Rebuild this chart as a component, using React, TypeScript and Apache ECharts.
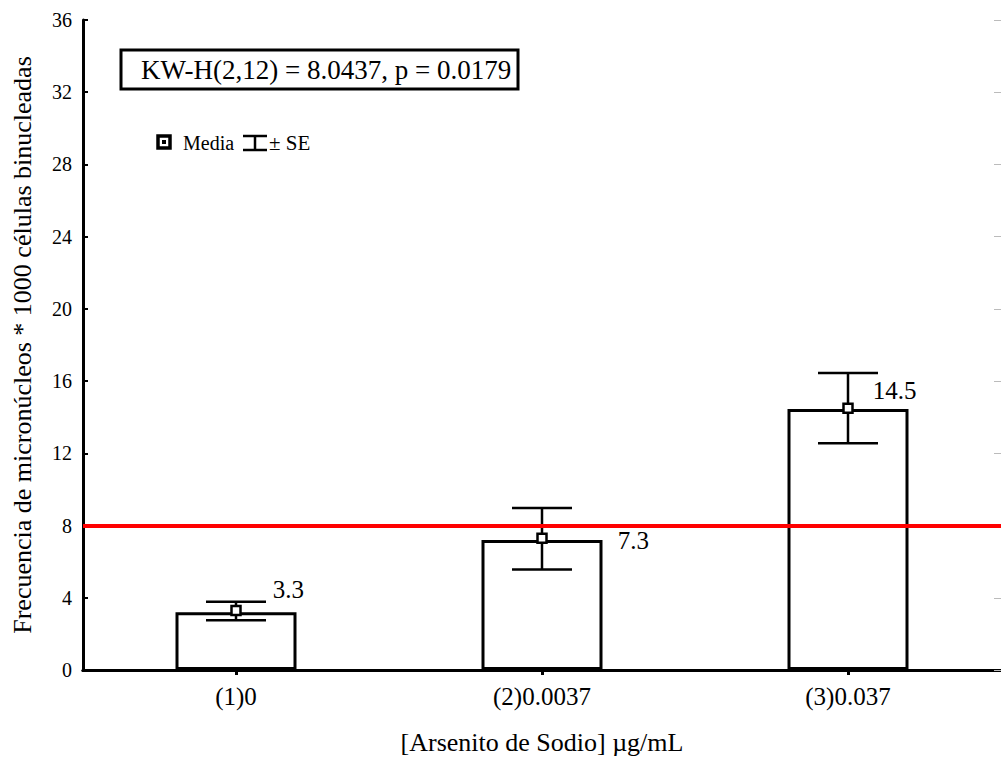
import React, { useEffect, useRef } from "react";
import * as echarts from "echarts";

const categories = ["(1)0", "(2)0.0037", "(3)0.037"];
const barValues = [3.2, 7.2, 14.45];
const meanValues = [3.3, 7.3, 14.5];
const seLow = [2.76, 5.56, 12.56];
const seHigh = [3.78, 8.97, 16.45];
const yTicks = { min: 0, max: 36, interval: 4 };
const refLine = 8;
const statText = "KW-H(2,12) = 8.0437, p = 0.0179";
const labelOffsets = [
  [31, -21],
  [70, 2],
  [19, -18],
];

const FONT = "Liberation Serif";

export default function App() {
  const ref = useRef<HTMLDivElement>(null);
  useEffect(() => {
    if (!ref.current) return;
    const chart = echarts.init(ref.current, null, { renderer: "svg" });
    const axisLine = { show: true, lineStyle: { color: "#000", width: 3 } };
    chart.setOption({
      animation: false,
      backgroundColor: "#fff",
      textStyle: { fontFamily: FONT },
      grid: { left: 83, top: 20, width: 922, height: 652 },
      xAxis: [
        {
          type: "category",
          data: categories,
          position: "bottom",
          axisLine,
          axisTick: { show: true, inside: true, length: 4, alignWithLabel: true, lineStyle: { color: "#000", width: 2 } },
          axisLabel: { color: "#000", fontSize: 25, fontFamily: FONT, margin: 14 },
          name: "[Arsenito de Sodio] µg/mL",
          nameLocation: "middle",
          nameGap: 59,
          nameTextStyle: { color: "#000", fontSize: 26, fontFamily: FONT },
        },
        {
          type: "category",
          data: categories,
          position: "top",
          axisLine,
          axisTick: { show: true, inside: true, length: 5, alignWithLabel: true, lineStyle: { color: "#000", width: 3 } },
          axisLabel: { show: false },
        },
      ],
      yAxis: [
        {
          type: "value",
          min: yTicks.min,
          max: yTicks.max,
          interval: yTicks.interval,
          position: "left",
          axisLine,
          splitLine: { show: false },
          axisTick: { show: true, inside: true, length: 5, lineStyle: { color: "#000", width: 2 } },
          axisLabel: { color: "#000", fontSize: 20, fontFamily: FONT, margin: 11 },
          name: "Frecuencia de micronúcleos * 1000 células binucleadas",
          nameLocation: "middle",
          nameGap: 48,
          nameTextStyle: { color: "#000", fontSize: 26, fontFamily: FONT },
        },
        {
          type: "value",
          min: yTicks.min,
          max: yTicks.max,
          interval: yTicks.interval,
          position: "right",
          axisLine: { show: false },
          splitLine: { show: false },
          axisTick: { show: true, inside: true, length: 7, lineStyle: { color: "#bbb", width: 1 } },
          axisLabel: { show: false },
        },
      ],
      series: [
        {
          type: "bar",
          data: barValues,
          barWidth: 121,
          itemStyle: { color: "#fff", borderColor: "#000", borderWidth: 3 },
          markLine: {
            silent: true,
            symbol: ["none", "none"],
            label: { show: false },
            lineStyle: { color: "#ff0000", width: 4, type: "solid" },
            data: [{ yAxis: refLine }],
            z: 10,
          },
          z: 2,
        },
        {
          type: "custom",
          data: categories.map((_, i) => [i, seLow[i], seHigh[i]]),
          renderItem: (params: any, api: any) => {
            const x = api.value(0);
            const lo = api.coord([x, api.value(1)]);
            const hi = api.coord([x, api.value(2)]);
            const hw = 30;
            const style = { stroke: "#000", lineWidth: 2.5 };
            return {
              type: "group",
              children: [
                { type: "line", shape: { x1: lo[0], y1: lo[1], x2: hi[0], y2: hi[1] }, style },
                { type: "line", shape: { x1: lo[0] - hw, y1: lo[1], x2: lo[0] + hw, y2: lo[1] }, style },
                { type: "line", shape: { x1: hi[0] - hw, y1: hi[1], x2: hi[0] + hw, y2: hi[1] }, style },
              ],
            };
          },
          z: 3,
        },
        {
          type: "scatter",
          data: meanValues.map((v, i) => ({
            value: [i, v],
            label: { offset: labelOffsets[i] },
          })),
          symbol: "rect",
          symbolSize: 9,
          itemStyle: { color: "#fff", borderColor: "#000", borderWidth: 2.5, opacity: 1 },
          label: {
            show: true,
            position: "right",
            distance: 0,
            color: "#000",
            fontSize: 25,
            fontFamily: FONT,
            formatter: (p: any) => p.value[1].toFixed(1),
          },
          z: 5,
        },
      ],
      graphic: [
        {
          type: "rect",
          shape: { x: 121, y: 50, width: 397, height: 39 },
          style: { fill: "#fff", stroke: "#000", lineWidth: 3 },
          z: 20,
        },
        {
          type: "text",
          x: 141,
          y: 70,
          style: { text: statText, fontSize: 27, fontFamily: FONT, fill: "#000", verticalAlign: "middle" },
          z: 21,
        },
        {
          type: "rect",
          shape: { x: 158, y: 136, width: 12, height: 12 },
          style: { fill: "#fff", stroke: "#000", lineWidth: 3.5 },
          z: 20,
        },
        {
          type: "rect",
          shape: { x: 162, y: 140, width: 4, height: 4 },
          style: { fill: "#000" },
          z: 21,
        },
        {
          type: "text",
          x: 183,
          y: 143,
          style: { text: "Media", fontSize: 20, fontFamily: FONT, fill: "#000", verticalAlign: "middle" },
          z: 21,
        },
        {
          type: "line",
          shape: { x1: 243, y1: 136, x2: 267, y2: 136 },
          style: { stroke: "#000", lineWidth: 2.5 },
          z: 21,
        },
        {
          type: "line",
          shape: { x1: 243, y1: 150, x2: 267, y2: 150 },
          style: { stroke: "#000", lineWidth: 2.5 },
          z: 21,
        },
        {
          type: "line",
          shape: { x1: 255, y1: 136, x2: 255, y2: 150 },
          style: { stroke: "#000", lineWidth: 2.5 },
          z: 21,
        },
        {
          type: "text",
          x: 269,
          y: 143,
          style: { text: "± SE", fontSize: 21, fontFamily: FONT, fill: "#000", verticalAlign: "middle" },
          z: 21,
        },
      ],
    });
    return () => chart.dispose();
  }, []);
  return <div ref={ref} style={{ width: 1001, height: 760, position: "absolute", left: 0, top: 0 }} />;
}
